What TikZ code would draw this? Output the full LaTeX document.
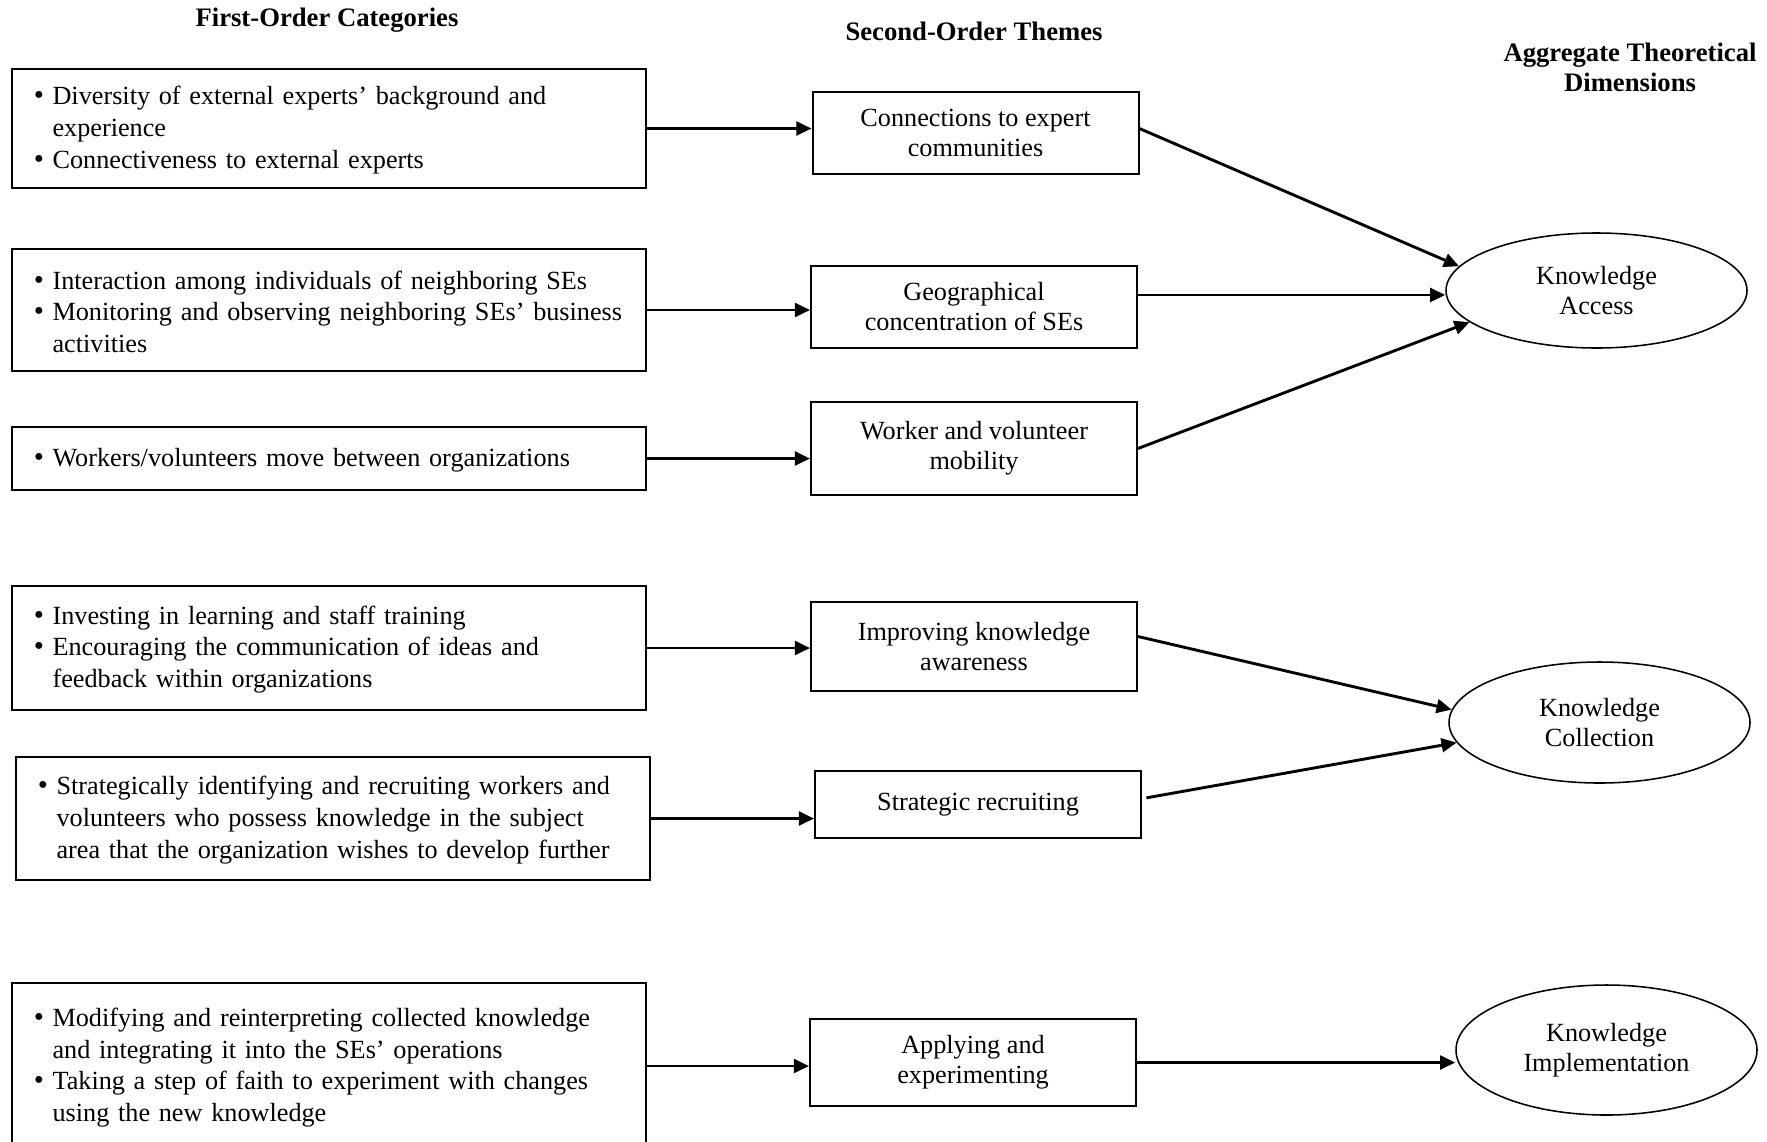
\documentclass[tikz,border=0pt]{standalone}
\usepackage{fontspec}
\setmainfont{Liberation Serif}
\usetikzlibrary{shapes.geometric,arrows.meta}

\newcommand{\bitem}[1]{\par\noindent\hangindent=9.6pt\hangafter=1\rightskip=0pt plus 1fil\relax
  \makebox[9.6pt][l]{\hspace{1.2pt}{\fontsize{13}{13}\selectfont\textbullet}}#1\par}

\begin{document}
\begin{tikzpicture}[x=0.45pt,y=-0.45pt,
    every node/.style={font=\fontsize{11.8}{14.2}\selectfont},
    head/.style={font=\fontsize{12}{13.5}\selectfont\bfseries,align=center},
    catbox/.style={draw,line width=0.9pt,text width=268pt,inner xsep=8.7pt,inner ysep=0pt,align=left,
      execute at begin node={\hyphenpenalty=10000\exhyphenpenalty=10000},
      execute at end node={\vspace{4.5pt}}},
    themebox/.style={draw,line width=0.9pt,minimum width=146.7pt,inner sep=0pt,align=center,
      font=\fontsize{11.8}{13.5}\selectfont},
    dimbox/.style={draw,ellipse,line width=0.7pt,minimum width=135.45pt,inner sep=0pt,align=center,
      font=\fontsize{11.8}{13.5}\selectfont},
    arr/.style={line width=1.3pt,-{Triangle[length=6.8pt,width=6.2pt]}}]
    \useasboundingbox (0,0) rectangle (1767,1141);
    \clip (0,0) rectangle (1767,1141);

    % column heads
    \node[head] (h1) at (327,20) {First-Order Categories};
    \node[head] (h2) at (974,31) {Second-Order Themes};
    \node[head] (h3) at (1630,67) {Aggregate Theoretical\\Dimensions};

    % first-order categories
    \node[catbox,minimum height=53.55pt] (c1) at (329,128.5) {%
      \bitem{Diversity of external experts' background and\newline experience}%
      \bitem{Connectiveness to external experts}};
    \node[catbox,minimum height=54.9pt] (c2) at (329,310) {%
      \bitem{Interaction among individuals of neighboring SEs}%
      \bitem{Monitoring and observing neighboring SEs' business\newline activities}};
    \node[catbox,minimum height=28.35pt] (c3) at (329,458.5) {%
      \bitem{Workers/volunteers move between organizations}};
    \node[catbox,minimum height=55.8pt] (c4) at (329,648) {%
      \bitem{Investing in learning and staff training}%
      \bitem{Encouraging the communication of ideas and\newline feedback within organizations}};
    \node[catbox,minimum height=55.35pt] (c5) at (333,818.5) {%
      \bitem{Strategically identifying and recruiting workers and\newline volunteers who possess knowledge in the subject\newline area that the organization wishes to develop further}};
    \node[catbox,minimum height=74.7pt] (c6) at (329,1066) {%
      \bitem{Modifying and reinterpreting collected knowledge\newline and integrating it into the SEs' operations}%
      \bitem{Taking a step of faith to experiment with changes\newline using the new knowledge}};

    % second-order themes
    \node[themebox,minimum height=36.9pt] (t1) at (975.5,133) {Connections to expert\\communities};
    \node[themebox,minimum height=36.9pt] (t2) at (974,307) {Geographical\\concentration of SEs};
    \node[themebox,minimum height=41.85pt] (t3) at (974,448.5) {Worker and volunteer\\mobility};
    \node[themebox,minimum height=40.05pt] (t4) at (974,646.5) {Improving knowledge\\awareness};
    \node[themebox,minimum height=30.15pt] (t5) at (978,804.5) {Strategic recruiting};
    \node[themebox,minimum height=39.15pt] (t6) at (973,1062.5) {Applying and\\experimenting};

    % aggregate dimensions
    \node[dimbox,minimum height=51.75pt] (d1) at (1596.5,290.5) {Knowledge\\Access};
    \node[dimbox,minimum height=54.45pt] (d2) at (1599.5,722.5) {Knowledge\\Collection};
    \node[dimbox,minimum height=58.5pt] (d3) at (1606.5,1050) {Knowledge\\Implementation};

    % arrows
    \foreach \i in {1,...,6}
      \draw[arr] (c\i.east) -- (c\i.east -| t\i.west);
    \draw[arr] ([yshift=2pt]t1.east) -- (d1.170);
    \draw[arr] ([yshift=-2pt]d1.west -| t2.east) -- ([yshift=-2pt]d1.west);
    \draw[arr] (t3.east) -- (d1.194);
    \draw[arr] ([yshift=4.5pt]t4.east) -- (d2.175);
    \draw[arr] ([xshift=2pt,yshift=3pt]t5.east) -- (d2.188);
    \draw[arr] (t6.east) -- (t6.east -| d3.west);
\end{tikzpicture}
\end{document}
